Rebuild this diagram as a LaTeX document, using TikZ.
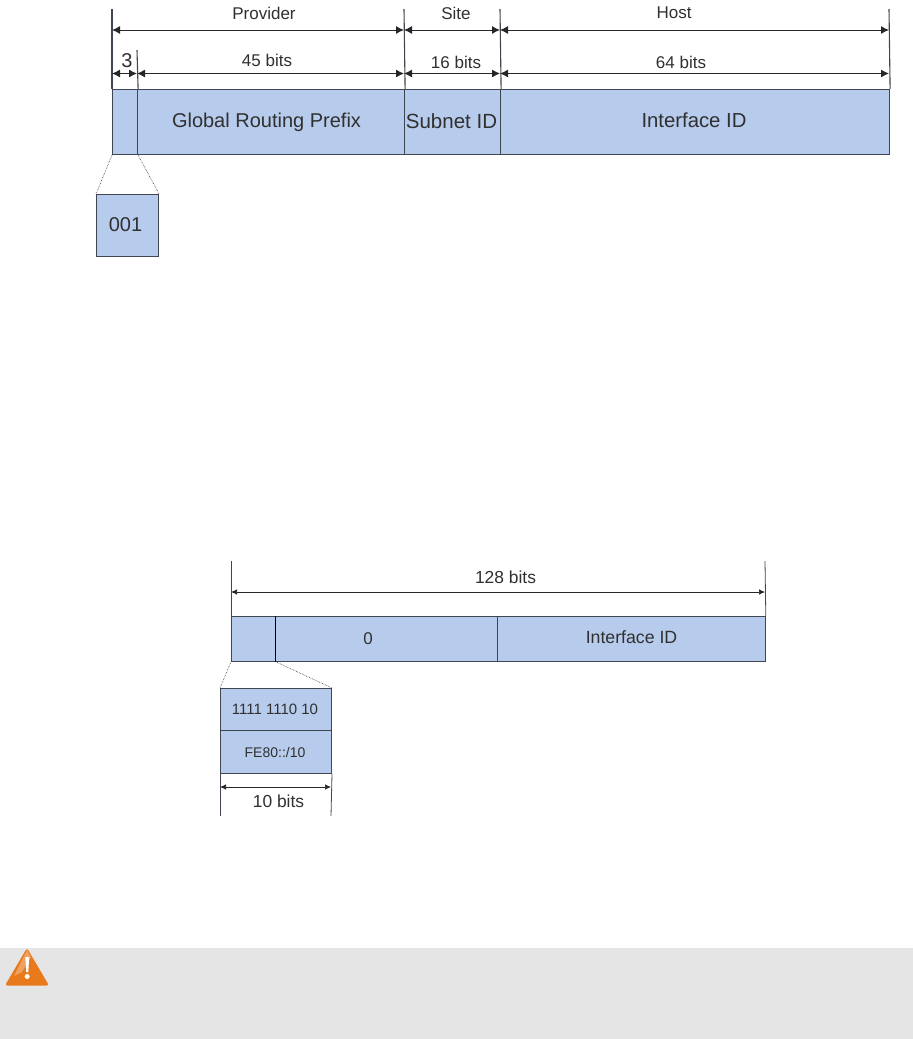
\documentclass[tikz,border=0pt]{standalone}
\usepackage{fontspec}
\setmainfont{Liberation Sans}
\usetikzlibrary{arrows.meta,calc}
\definecolor{cellblue}{HTML}{B7CBEC}
\definecolor{linegrey}{HTML}{3F4650}
\definecolor{notegrey}{HTML}{E5E5E5}
\definecolor{warnorange}{HTML}{E97A1C}
\definecolor{textgrey}{HTML}{303030}
\newcommand{\fsz}[1]{\fontsize{#1}{#1}\selectfont}
\tikzset{
  cell/.style={draw=linegrey,fill=cellblue,line width=1.1pt,inner sep=0pt,text=textgrey,anchor=north west},
  tick/.style={draw=linegrey,line width=1.1pt},
  dim/.style={draw=black!85,line width=1pt,{Latex[length=8pt,width=8pt]}-{Latex[length=8pt,width=8pt]}},
  dimsmall/.style={draw=black!85,line width=.7pt,{Latex[length=6pt,width=5.5pt]}-{Latex[length=6pt,width=5.5pt]}},
  zoomline/.style={draw=black!80,line width=.6pt,densely dotted},
  lab/.style={inner sep=0pt,text=textgrey},
}
\begin{document}
\begin{tikzpicture}[x=1pt,y=-1pt]
\useasboundingbox (0,0) rectangle (913,1039);
% note banner
\fill[notegrey] (0,948) rectangle (913,1039);
\fill[warnorange,rounded corners=2.5pt] (27,948) -- (49,985.5) -- (5,985.5) -- cycle;
\fill[white,opacity=.3] (27,950) -- (31,957) -- (22,972) -- (14,976) -- cycle;
\fill[white] (25.3,957) -- (29.2,957) -- (28.3,972) -- (26.2,972) -- cycle;
\fill[white] (27.2,976.5) circle (2.5);
% upper bar
\node[cell,minimum width=25pt,minimum height=65pt] (a1) at (112,89) {};
\node[cell,minimum width=267pt,minimum height=65pt] (a2) at (137,89) {};
\node[cell,minimum width=96pt,minimum height=65pt] (a3) at (404,89) {};
\node[cell,minimum width=389pt,minimum height=65pt] (a4) at (500,89) {};
\node[cell,minimum width=62pt,minimum height=62pt] (a5) at (96,194) {};
\node[lab,font=\fsz{20}] (t1) at (266.5,122) {Global Routing Prefix};
\node[lab,font=\fsz{20.5}] (t2) at (451.5,121.5) {Subnet ID};
\node[lab,font=\fsz{20.3}] (t3) at (694,120.5) {Interface ID};
\node[lab,font=\fsz{20}] (t4) at (125.5,225) {001};
\coordinate (ta) at (112,9);
\coordinate (tb) at (137,50);
\coordinate (tc) at (404,9);
\coordinate (td) at (500,9);
\coordinate (te) at (889,9);
\draw[tick] (a1.north west) -- (ta);
\draw[tick] (a1.north east) -- (tb);
\draw[tick] (a2.north east) -- (tc);
\draw[tick] (a3.north east) -- (td);
\draw[tick] (a4.north east) -- (te);
\draw[dim] (112,30) -- (404,30);
\draw[dim] (404,30) -- (500,30);
\draw[dim] (500,30) -- (889,30);
\draw[dim] (112,73.5) -- (137,73.5);
\draw[dim] (137,73.5) -- (404,73.5);
\draw[dim] (404,73.5) -- (500,73.5);
\draw[dim] (500,73.5) -- (889,73.5);
\node[lab,font=\fsz{17}] (l1) at (264,13) {Provider};
\node[lab,font=\fsz{17}] (l2) at (456,13) {Site};
\node[lab,font=\fsz{17}] (l3) at (674,13) {Host};
\node[lab,font=\fsz{20}] (l4) at (127,61) {3};
\node[lab,font=\fsz{17}] (l5) at (267,60.5) {45 bits};
\node[lab,font=\fsz{17}] (l6) at (456,62) {16 bits};
\node[lab,font=\fsz{17}] (l7) at (681,62) {64 bits};
\draw[zoomline] (a1.south west) -- (a5.north west);
\draw[zoomline] (a1.south east) -- (a5.north east);
% lower bar
\node[cell,line width=.8pt,minimum width=44pt,minimum height=45pt] (b1) at (231,616) {};
\node[cell,line width=.8pt,minimum width=222pt,minimum height=45pt] (b2) at (275,616) {};
\node[cell,line width=.8pt,minimum width=268pt,minimum height=45pt] (b3) at (497,616) {};
\node[cell,line width=1pt,minimum width=111pt,minimum height=42pt] (c1) at (220,688) {};
\node[cell,line width=1pt,minimum width=111pt,minimum height=43pt] (c2) at (220,730) {};
\node[lab,font=\fsz{17}] (t5) at (368,639) {0};
\node[lab,font=\fsz{17.7}] (t6) at (631.5,637.5) {Interface ID};
\node[lab,font=\fsz{15}] (t7) at (275,709) {1111 1110 10};
\node[lab,font=\fsz{14}] (t8) at (275,752) {FE80::/10};
\draw[black,line width=1.1pt] (b1.north east) -- (b1.south east);
\coordinate (tf) at (231,561);
\coordinate (tg) at (765,561);
\coordinate (th) at (220,816);
\coordinate (ti) at (331,816);
\draw[tick,line width=.8pt] (b1.north west) -- (tf);
\draw[tick,line width=.8pt] (b3.north east) -- (tg);
\draw[tick,line width=.8pt] (c2.south west) -- (th);
\draw[tick,line width=.8pt] (c2.south east) -- (ti);
\draw[dimsmall] (231,592) -- (765,592);
\draw[dimsmall] (220,787) -- (331,787);
\node[lab,font=\fsz{17.4}] (l8) at (505.5,577.5) {128 bits};
\node[lab,font=\fsz{17.4}] (l9) at (278.5,801.5) {10 bits};
\draw[zoomline] (b1.south west) -- (c1.north west);
\draw[zoomline] (b1.south east) -- (c1.north east);
\end{tikzpicture}
\end{document}
